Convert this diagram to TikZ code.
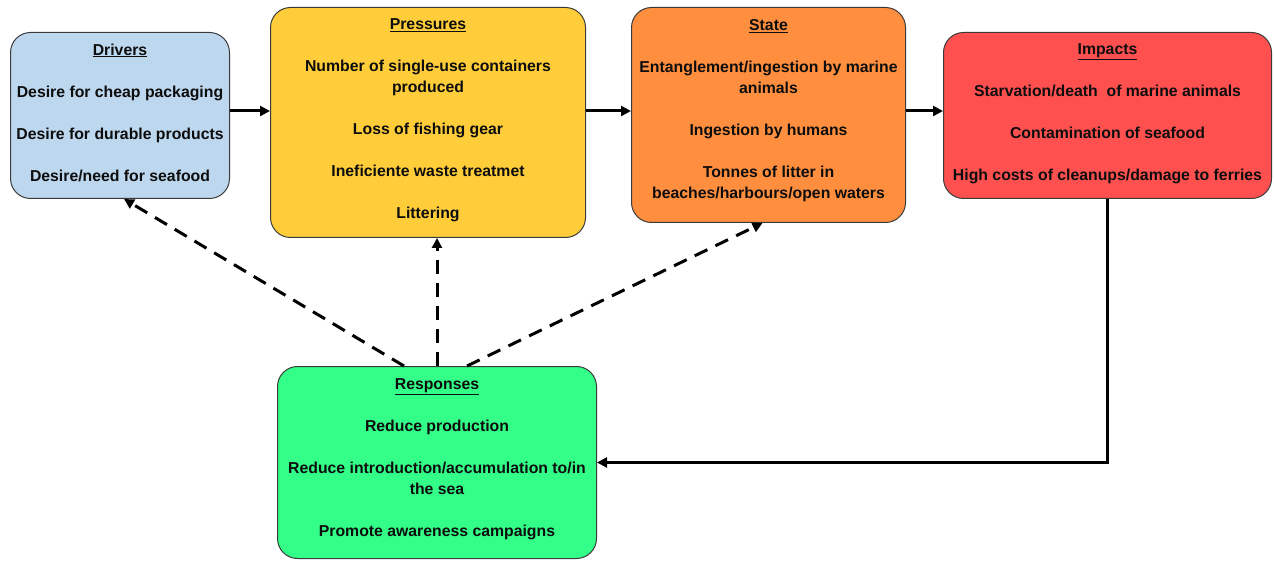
\documentclass[tikz,border=0pt]{standalone}
\usepackage{fontspec}
\setmainfont{Liberation Sans}
\usetikzlibrary{arrows.meta}
\definecolor{drvc}{HTML}{BDD7EE}
\definecolor{prsc}{HTML}{FFCD3A}
\definecolor{sttc}{HTML}{FF8F3F}
\definecolor{impc}{HTML}{FF5050}
\definecolor{rspc}{HTML}{33FF88}
\definecolor{edgec}{HTML}{3A3A3A}
\begin{document}
\begin{tikzpicture}[x=1pt,y=-1pt,
  box/.style={draw=edgec, line width=1pt, rounded corners=20pt, inner sep=0pt, anchor=north west},
  txt/.style={align=center, font=\bfseries\fontsize{15.8}{21}\selectfont, text=black!95, inner sep=0pt},
  flow/.style={line width=3pt, -{Triangle[length=10pt,width=10pt]}},
  dashline/.style={flow, dash pattern=on 14pt off 9pt}]
\useasboundingbox (0,0) rectangle (1274,561);
\node[box, fill=drvc, minimum width=219pt, minimum height=166pt] (drv) at (10,32) {};
\node[txt] (drvt) at ([yshift=3pt]drv.center)
 {\underline{Drivers}\\[21pt]Desire for cheap packaging\\[21pt]Desire for durable products\\[21pt]Desire/need for seafood};
\node[box, fill=prsc, minimum width=315pt, minimum height=230pt] (prs) at (270,7) {};
\node[txt] (prst) at ([yshift=2pt]prs.center)
 {\underline{Pressures}\\[21pt]Number of single-use containers\\produced\\[21pt]Loss of fishing gear\\[21pt]Ineficiente waste treatmet\\[21pt]Littering};
\node[box, fill=sttc, minimum width=274pt, minimum height=215pt] (stt) at (631,7) {};
\node[txt] (sttt) at ([yshift=4pt]stt.center)
 {\underline{State}\\[21pt]Entanglement/ingestion by marine\\animals\\[21pt]Ingestion by humans\\[21pt]Tonnes of litter in\\beaches/harbours/open waters};
\node[box, fill=impc, minimum width=328pt, minimum height=166pt] (imp) at (943,32) {};
\node[txt] (impt) at ([yshift=1.5pt]imp.center)
 {\underline{Impacts}\\[21pt]Starvation/death\ \ of marine animals\\[21pt]Contamination of seafood\\[21pt]High costs of cleanups/damage to ferries};
\node[box, fill=rspc, minimum width=319pt, minimum height=192pt] (rsp) at (277,366) {};
\node[txt] (rspt) at ([yshift=3pt]rsp.center)
 {\underline{Responses}\\[21pt]Reduce production\\[21pt]Reduce introduction/accumulation to/in\\the sea\\[21pt]Promote awareness campaigns};
\coordinate (h) at (0,111);
\draw[flow] (drv.east |- h) -- (prs.west |- h);
\draw[flow] (prs.east |- h) -- (stt.west |- h);
\draw[flow] (stt.east |- h) -- (imp.west |- h);
\draw[flow, line width=2.5pt] (imp.south) |- (rsp.east);
\draw[dashline] ([xshift=-33pt]rsp.north) -- ([xshift=4pt]drv.south);
\draw[dashline] (rsp.north) -- (rsp.north |- prs.south);
\draw[dashline] ([xshift=30pt]rsp.north) -- ([xshift=-6pt]stt.south);
\end{tikzpicture}
\end{document}
